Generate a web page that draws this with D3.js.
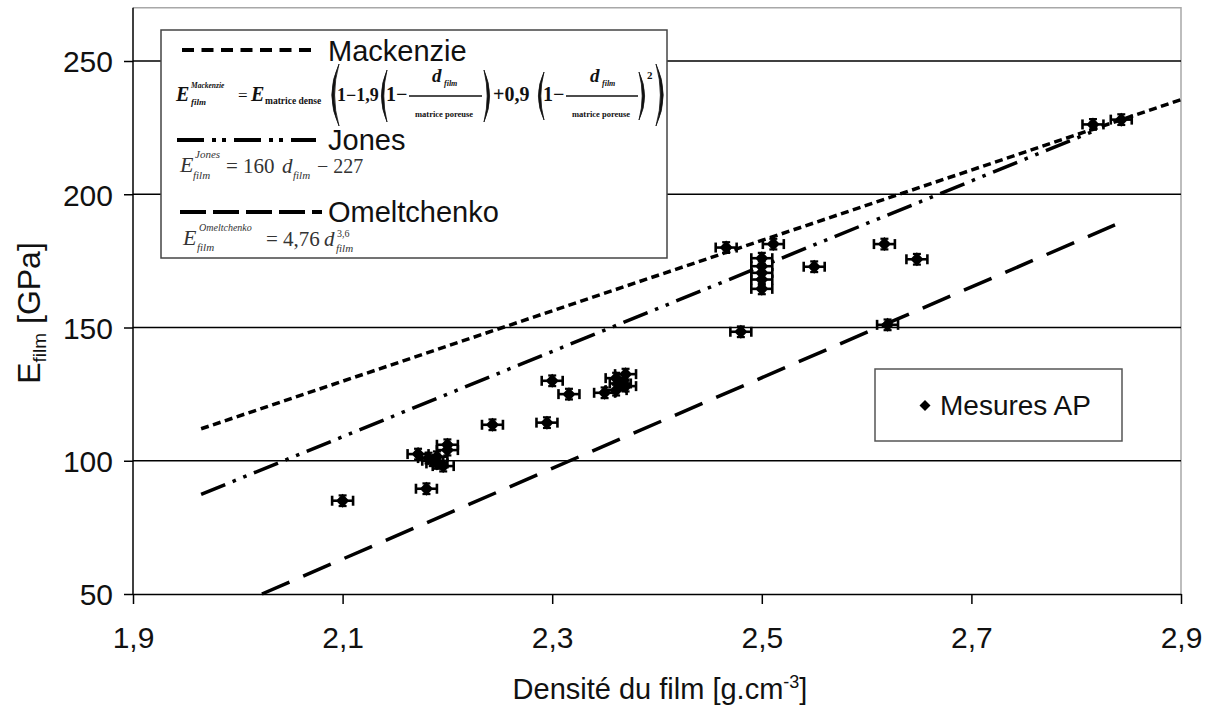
<!DOCTYPE html>
<html><head><meta charset="utf-8">
<script src="https://cdn.jsdelivr.net/npm/d3@7"></script>
<style>
html,body{margin:0;padding:0;background:#fff;}
svg{display:block;}
</style></head>
<body>
<svg id="chart" width="1211" height="709"></svg>
<script>
// ---------- data ----------
const xTicks = [1.9, 2.1, 2.3, 2.5, 2.7, 2.9];
const yTicks = [50, 100, 150, 200, 250];
const density = [2.100, 2.180, 2.172, 2.182, 2.190, 2.186, 2.190, 2.196, 2.200, 2.200,
  2.243, 2.295, 2.300, 2.316, 2.350, 2.361, 2.361, 2.370, 2.370, 2.365,
  2.466, 2.511, 2.500, 2.500, 2.500, 2.500, 2.500, 2.550, 2.480, 2.617,
  2.648, 2.620, 2.816, 2.843];
const modulus = [85, 89.5, 102.5, 101, 101.5, 100, 99, 98, 104, 106,
  113.5, 114.3, 130, 125, 125.5, 126.5, 131, 132.5, 128, 129,
  180, 181.3, 176, 173, 170.5, 168, 164.5, 172.8, 148.4, 181.3,
  175.6, 151, 226.2, 228];
const densityErr = 0.01;
const modulusErr = 2;
const mackenzieD = [1.965, 2.9];
const mackenzieE = [112, 235.5];
const jonesD = [1.965, 2.815];
const jonesE = [87.4, 223.4];
const omelD = [2.023, 2.837];
const omelE = [50, 188.5];
const seriesName = "Mesures AP";
const modelNames = ["Mackenzie", "Jones", "Omeltchenko"];
const xTitle = "Densité du film [g.cm";
const yTitle = "E";

// ---------- layout ----------
const svg = d3.select("#chart");
const L = 133, R = 1181, T = 7.7, B = 594;
const x = d3.scaleLinear().domain([1.9, 2.9]).range([L, R]);
const y = d3.scaleLinear().domain([50, 270]).range([B, T]);
const fmt = d => String(d).replace(".", ",");
const SANS = "'Liberation Sans', Arial, sans-serif";
const SERIF = "'Liberation Serif', 'Times New Roman', serif";

// plot border (top/right gray)
svg.append("path").attr("d", `M${L},${T}H${R}V${B}`).attr("fill", "none")
  .attr("stroke", "#a8a8a8").attr("stroke-width", 1.5);

// grid
svg.append("g").selectAll("line").data(yTicks.filter(v => v > 50)).join("line")
  .attr("x1", L).attr("x2", R).attr("y1", d => y(d)).attr("y2", d => y(d))
  .attr("stroke", "#000").attr("stroke-width", 1.4);

// axes
const yAxis = svg.append("g").attr("transform", `translate(${L},0)`)
  .call(d3.axisLeft(y).tickValues(yTicks).tickSize(9).tickSizeOuter(0).tickFormat(fmt));
const xAxis = svg.append("g").attr("transform", `translate(0,${B})`)
  .call(d3.axisBottom(x).tickValues(xTicks).tickSize(10).tickSizeOuter(0).tickFormat(fmt));
[yAxis, xAxis].forEach(g => {
  g.select(".domain").attr("stroke", "#000").attr("stroke-width", 1.5);
  g.selectAll(".tick line").attr("stroke", "#000").attr("stroke-width", 1.5);
  g.selectAll("text").attr("font-family", SANS).attr("font-size", 30).attr("fill", "#111");
});
yAxis.select(".domain").attr("d", `M0,${B}V${T}`);
yAxis.selectAll("text").attr("x", -20).attr("dy", "0.36em");
xAxis.selectAll("text").attr("y", 33).attr("dy", "0.71em");

// axis titles
const xt = svg.append("text").attr("x", 660).attr("y", 699).attr("text-anchor", "middle")
  .attr("font-family", SANS).attr("font-size", 29).attr("fill", "#111");
xt.append("tspan").text(xTitle);
xt.append("tspan").attr("font-size", 18).attr("dy", -11).text("-3");
xt.append("tspan").attr("dy", 11).text("]");

const yt = svg.append("text").attr("transform", "translate(40,313) rotate(-90)")
  .attr("text-anchor", "middle").attr("font-family", SANS).attr("font-size", 32).attr("fill", "#111");
yt.append("tspan").text(yTitle);
yt.append("tspan").attr("font-size", 19).attr("dy", 6).text("film");
yt.append("tspan").attr("dy", -6).text(" [GPa]");

// model lines
const line = d3.line().x(d => x(d[0])).y(d => y(d[1]));
const models = [
  {d: mackenzieD, e: mackenzieE, dash: "8,4.5"},
  {d: jonesD, e: jonesE, dash: "26,8,3.5,8,3.5,8"},
  {d: omelD, e: omelE, dash: "30,15"}
];
models.forEach(m => {
  svg.append("path").datum(m.d.map((v, i) => [v, m.e[i]])).attr("d", line)
    .attr("fill", "none").attr("stroke", "#000").attr("stroke-width", 3.5)
    .attr("stroke-dasharray", m.dash);
});

// data points with error bars
const pts = density.map((d, i) => ({d, e: modulus[i]}));
const gp = svg.append("g");
const eb = gp.selectAll("g").data(pts).join("g");
const seg = (x1, x2, y1, y2, w) => eb.append("line").attr("x1", x1).attr("x2", x2)
  .attr("y1", y1).attr("y2", y2).attr("stroke", "#000").attr("stroke-width", w);
seg(p => x(p.d - densityErr), p => x(p.d + densityErr), p => y(p.e), p => y(p.e), 2.6);
seg(p => x(p.d - densityErr), p => x(p.d - densityErr), p => y(p.e) - 5, p => y(p.e) + 5, 2.6);
seg(p => x(p.d + densityErr), p => x(p.d + densityErr), p => y(p.e) - 5, p => y(p.e) + 5, 2.6);
seg(p => x(p.d), p => x(p.d), p => y(p.e - modulusErr), p => y(p.e + modulusErr), 2.6);
seg(p => x(p.d) - 4, p => x(p.d) + 4, p => y(p.e + modulusErr), p => y(p.e + modulusErr), 2.2);
seg(p => x(p.d) - 4, p => x(p.d) + 4, p => y(p.e - modulusErr), p => y(p.e - modulusErr), 2.2);
eb.append("path").attr("d", p => {
  const cx = x(p.d), cy = y(p.e);
  return `M${cx},${cy - 7}L${cx + 6.5},${cy}L${cx},${cy + 7}L${cx - 6.5},${cy}Z`;
}).attr("fill", "#000");

// ---------- model legend box ----------
const lg = svg.append("g");
lg.append("rect").attr("x", 161).attr("y", 30).attr("width", 506).attr("height", 228)
  .attr("fill", "#fff").attr("stroke", "#444").attr("stroke-width", 1.5);
const sample = (x1, x2, yy, dash) => lg.append("line").attr("x1", x1).attr("x2", x2)
  .attr("y1", yy).attr("y2", yy).attr("stroke", "#000").attr("stroke-width", 4).attr("stroke-dasharray", dash);
sample(182, 318, 50, "12,7.5");
sample(177, 316, 140, "27,8,4,6,4,8");
sample(180, 322, 212, "26,7");
const lt = (xx, yy, t) => lg.append("text").attr("x", xx).attr("y", yy).attr("font-family", SANS)
  .attr("font-size", 29).attr("fill", "#111").text(t);
lt(328, 61, modelNames[0]);
lt(328, 150, modelNames[1]);
lt(328, 222, modelNames[2]);

// a formula piece = one text element made of absolutely positioned tspans
const formula = (parts, fill) => {
  const t = lg.append("text").attr("font-family", SERIF).attr("fill", fill);
  parts.forEach(p => {
    const s = t.append("tspan").attr("x", p[0]).attr("y", p[1]).attr("font-size", p[3]).text(p[2]);
    const st = p[4] || "";
    if (st.includes("b")) s.attr("font-weight", "bold");
    if (st.includes("i")) s.attr("font-style", "italic");
  });
  return t;
};
const paren = (x0, y0, y1, w, left, th) => {
  const ym = (y0 + y1) / 2;
  const xo = left ? x0 - w * 1.6 : x0 + w * 1.6;
  const xi = left ? xo + th * 1.6 : xo - th * 1.6;
  lg.append("path").attr("d", `M${x0},${y0}Q${xo},${ym} ${x0},${y1}Q${xi},${ym} ${x0},${y0}Z`)
    .attr("fill", "#111").attr("stroke", "#111").attr("stroke-width", 0.8);
};
// Mackenzie formula
formula([
  [176, 101, "E", 20, "bi"],
  [191, 88, "Mackenzie", 7.5, "bi"],
  [191, 105, "film", 9, "bi"],
  [238, 101, "=", 17, ""],
  [251, 101, "E", 20, "bi"],
  [265, 104, "matrice dense", 9.5, "b"],
  [337, 101, "1−1,9", 18, "b"],
  [386, 101, "1−", 20, "b"],
  [432, 82, "d", 19, "bi"],
  [444, 86, "film", 8, "bi"],
  [415, 117, "matrice poreuse", 8.5, "b"],
  [493, 101, "+0,9", 20, "b"],
  [543, 101, "1−", 20, "b"],
  [590, 82, "d", 19, "bi"],
  [602, 86, "film", 8, "bi"],
  [572, 117, "matrice poreuse", 8.5, "b"],
  [647, 79, "2", 11, "b"]
], "#111");
paren(339, 64, 126, 9, true, 3.5);
paren(387, 70, 122, 7, true, 3);
paren(484, 70, 122, 7, false, 3);
paren(544, 72, 120, 7, true, 3);
paren(639, 72, 120, 7, false, 3);
paren(656, 64, 126, 9, false, 3.5);
lg.append("line").attr("x1", 409).attr("x2", 482).attr("y1", 96).attr("y2", 96).attr("stroke", "#111").attr("stroke-width", 1.4);
lg.append("line").attr("x1", 566).attr("x2", 638).attr("y1", 96).attr("y2", 96).attr("stroke", "#111").attr("stroke-width", 1.4);

// Jones formula
formula([
  [180, 172, "E", 22, "i"],
  [195, 158, "Jones", 11, "i"],
  [193, 179, "film", 11, "i"]
], "#333");
formula([
  [226, 173, "= 160", 21, ""],
  [282, 173, "d", 21, "i"],
  [293, 179, "film", 11, "i"],
  [317, 173, "− 227", 20, ""]
], "#333");

// Omeltchenko formula
formula([
  [183, 245, "E", 22, "i"],
  [199, 231, "Omeltchenko", 10, "i"],
  [197, 251, "film", 11, "i"]
], "#333");
formula([
  [266, 246, "= 4,76", 21, ""],
  [324, 246, "d", 21, "i"],
  [336, 252, "film", 11, "i"]
], "#333");
formula([[337, 237, "3,6", 10, ""]], "#333");

// ---------- series legend ----------
const sl = svg.append("g");
sl.append("rect").attr("x", 875).attr("y", 369).attr("width", 247).attr("height", 72)
  .attr("fill", "#fff").attr("stroke", "#555").attr("stroke-width", 1.5);
sl.append("path").attr("d", "M925,400L930.5,405.5L925,411L919.5,405.5Z").attr("fill", "#000");
sl.append("text").attr("x", 940).attr("y", 415).attr("font-family", SANS).attr("font-size", 28)
  .attr("fill", "#111").text(seriesName);
</script>
</body></html>
